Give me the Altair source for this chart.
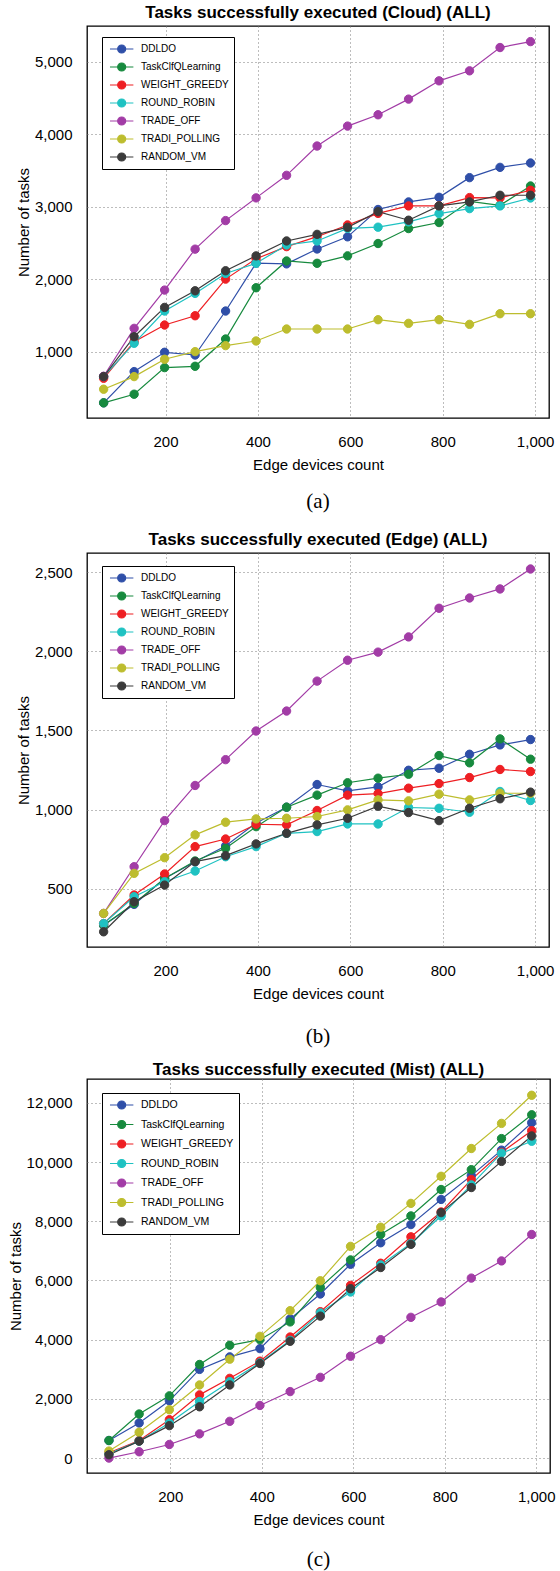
import altair as alt
import pandas as pd

X = [66, 132, 198, 264, 330, 396, 462, 528, 594, 660, 726, 792, 858, 924, 990]
SERIES = ["DDLDO", "TaskClfQLearning", "WEIGHT_GREEDY", "ROUND_ROBIN",
          "TRADE_OFF", "TRADI_POLLING", "RANDOM_VM"]
COLORS = ["#2f4fa8", "#178a3e", "#ee1f23", "#1fc2c2", "#a23ca6", "#bdbd2e", "#3b3b3b"]

# (a) Cloud
cloud_ddldo = [294, 725, 991, 954, 1560, 2220, 2210, 2416, 2583, 2960, 3064, 3128, 3399, 3541, 3601]
cloud_taskclf = [294, 413, 780, 798, 1174, 1881, 2250, 2218, 2321, 2491, 2697, 2780, 3073, 3018, 3284]
cloud_weight = [633, 1138, 1367, 1495, 2000, 2280, 2448, 2585, 2747, 2906, 3009, 3009, 3124, 3120, 3225]
cloud_round = [656, 1115, 1560, 1803, 2078, 2218, 2471, 2526, 2700, 2716, 2789, 2904, 2972, 3009, 3119]
cloud_trade = [660, 1321, 1849, 2413, 2807, 3120, 3431, 3835, 4110, 4266, 4482, 4734, 4872, 5193, 5275]
cloud_tradi = [482, 656, 895, 1000, 1083, 1147, 1312, 1312, 1312, 1440, 1390, 1440, 1376, 1523, 1523]
cloud_random = [656, 1206, 1610, 1839, 2115, 2320, 2526, 2617, 2714, 2930, 2812, 3009, 3064, 3156, 3156]

# (b) Edge
edge_ddldo = [270, 401, 565, 670, 770, 915, 1015, 1158, 1118, 1143, 1248, 1261, 1349, 1408, 1442]
edge_taskclf = [270, 407, 565, 675, 755, 892, 1015, 1091, 1169, 1198, 1223, 1341, 1295, 1446, 1318]
edge_weight = [280, 460, 593, 766, 814, 907, 903, 994, 1091, 1101, 1135, 1164, 1202, 1253, 1240]
edge_round = [280, 449, 544, 612, 702, 766, 850, 861, 909, 909, 1013, 1008, 983, 1114, 1057]
edge_trade = [344, 639, 930, 1152, 1315, 1496, 1622, 1811, 1943, 1994, 2090, 2271, 2336, 2393, 2519]
edge_tradi = [344, 597, 696, 840, 920, 941, 945, 956, 998, 1061, 1055, 1097, 1061, 1103, 1103]
edge_random = [228, 418, 523, 671, 709, 783, 850, 903, 945, 1021, 981, 930, 1008, 1068, 1110]

# (c) Mist
mist_ddldo = [593, 1185, 1933, 2995, 3419, 3698, 4700, 5543, 6548, 7274, 7888, 8738, 9543, 10403, 11330]
mist_taskclf = [593, 1487, 2101, 3162, 3810, 4000, 4600, 5766, 6694, 7554, 8180, 9073, 9744, 10794, 11598]
mist_weight = [180, 593, 1296, 2135, 2693, 3274, 4089, 4945, 5834, 6582, 7475, 8314, 9409, 10325, 11062]
mist_round = [146, 571, 1185, 1911, 2581, 3218, 3978, 4907, 5610, 6526, 7250, 8180, 9230, 10302, 10704]
mist_trade = [0, 212, 459, 817, 1241, 1777, 2246, 2727, 3441, 4000, 4755, 5275, 6080, 6660, 7554]
mist_tradi = [236, 872, 1632, 2470, 3341, 4112, 4980, 5990, 7152, 7800, 8604, 9520, 10459, 11307, 12257]
mist_random = [112, 571, 1095, 1732, 2470, 3196, 3944, 4795, 5722, 6437, 7220, 8292, 9140, 10023, 10883]

X_TICKS = [200, 400, 600, 800, 1000]
CLOUD_Y_TICKS = [1000, 2000, 3000, 4000, 5000]
EDGE_Y_TICKS = [500, 1000, 1500, 2000, 2500]
MIST_Y_TICKS = [0, 2000, 4000, 6000, 8000, 10000, 12000]

SANS = "Liberation Sans"
SERIF = "Liberation Serif"
LEGEND_PATH = "M-0.67,0L3.23,0M0.61,0A0.67,0.67,0,1,0,1.95,0A0.67,0.67,0,1,0,0.61,0Z"


def make_df(series_lists):
    rows = []
    for si, (name, vals) in enumerate(zip(SERIES, series_lists)):
        for xv, yv in zip(X, vals):
            rows.append({"x": xv, "y": yv, "series": name, "k": si})
    return pd.DataFrame(rows)


def panel(series_lists, title, caption, xdomain, ydomain, yticks, width, height,
          cap_off, ext, title_off, leg_y, leg_font, leg_rowpad):
    df = make_df(series_lists)
    cscale = alt.Scale(domain=SERIES, range=COLORS)
    xenc = alt.X("x:Q", scale=alt.Scale(domain=xdomain, nice=False, zero=False),
                 axis=alt.Axis(values=X_TICKS, format=",d", title="Edge devices count"))
    yenc = alt.Y("y:Q", scale=alt.Scale(domain=ydomain, nice=False, zero=False),
                 axis=alt.Axis(values=yticks, format=",d", title="Number of tasks"))
    legend = alt.Legend(
        orient="none", legendX=15, legendY=leg_y, title=None,
        fillColor="white", strokeColor="black", padding=5, rowPadding=leg_rowpad,
        labelFont=SANS, labelFontSize=leg_font, labelColor="black", labelOffset=20,
        labelLimit=300, symbolType=LEGEND_PATH, symbolSize=144, symbolStrokeWidth=1.2,
        symbolOpacity=1, cornerRadius=0,
    )
    lines = alt.Chart(df).mark_line(strokeWidth=1.2).encode(
        x=xenc, y=yenc,
        color=alt.Color("series:N", scale=cscale, legend=None),
        order=alt.Order("x:Q"),
    )
    points = alt.Chart(df).mark_point(filled=True, size=70, strokeWidth=1, opacity=1).encode(
        x=xenc, y=yenc,
        fill=alt.Fill("series:N", scale=cscale, legend=legend),
        stroke=alt.Stroke("series:N", scale=cscale, legend=legend),
        order=alt.Order("k:Q"),
    )
    capdf = pd.DataFrame({"t": [caption]})
    cap = alt.Chart(capdf).mark_text(
        font=SERIF, fontSize=21, baseline="middle", align="center", color="black"
    ).encode(text="t:N", x=alt.value(width / 2), y=alt.value(height + cap_off))
    layers = [lines, points, cap]
    if ext > 0:
        extender = alt.Chart(capdf).mark_text(
            font=SERIF, fontSize=21, baseline="middle", align="center", opacity=0
        ).encode(text="t:N", x=alt.value(width / 2), y=alt.value(height + cap_off + ext))
        layers.append(extender)
    return alt.layer(*layers).properties(
        width=width, height=height,
        title=alt.TitleParams(text=title, font=SANS, fontSize=17, fontWeight="bold",
                              offset=title_off, anchor="middle", color="black"),
    ).resolve_scale(color="independent", fill="independent", stroke="independent")


pa = panel([cloud_ddldo, cloud_taskclf, cloud_weight, cloud_round, cloud_trade, cloud_tradi, cloud_random],
           "Tasks successfully executed (Cloud) (ALL)", "(a)",
           [30, 1030], [85, 5490], CLOUD_Y_TICKS, 462, 392, 84, 5, 4, 11, 10, 4)
pb = panel([edge_ddldo, edge_taskclf, edge_weight, edge_round, edge_trade, edge_tradi, edge_random],
           "Tasks successfully executed (Edge) (ALL)", "(b)",
           [30, 1030], [132, 2620], EDGE_Y_TICKS, 462, 394, 90, 0, 4, 13, 10, 4)
pc = panel([mist_ddldo, mist_taskclf, mist_weight, mist_round, mist_trade, mist_tradi, mist_random],
           "Tasks successfully executed (Mist) (ALL)", "(c)",
           [18, 1030], [-505, 12807], MIST_Y_TICKS, 463, 394, 87, 0, 0, 14, 10.5, 5.5)

chart = alt.vconcat(pa, pb, pc, spacing=12).properties(
    padding={"left": 7, "top": 3, "right": 2, "bottom": 0}
).resolve_scale(
    color="independent", fill="independent", stroke="independent",
    x="independent", y="independent",
).resolve_legend(
    color="independent", fill="independent", stroke="independent"
).configure_view(
    stroke="black", strokeWidth=1.3
).configure_axis(
    labelFont=SANS, labelFontSize=15, labelColor="black",
    titleFont=SANS, titleFontSize=15, titleFontWeight="normal", titleColor="black",
    ticks=False, tickSize=0, domain=False,
    grid=True, gridColor="#7a7a7a", gridDash=[1, 3], gridWidth=1, gridOpacity=1,
).configure_axisX(
    labelPadding=16, titlePadding=8
).configure_axisY(
    labelPadding=15, titlePadding=3
)

chart.save("out.html", embed_options={"renderer": "svg", "actions": False})
